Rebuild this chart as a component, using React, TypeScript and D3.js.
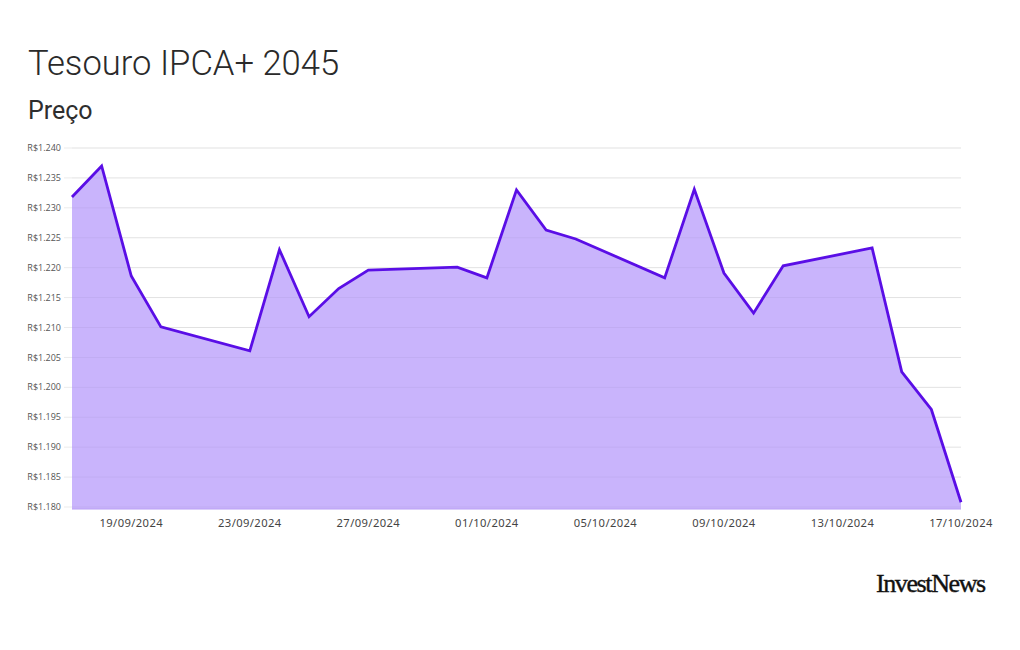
import React, { useEffect } from "react";
import * as d3 from "d3";

// dias úteis do período
const dates = [
  "2024-09-17", "2024-09-18", "2024-09-19", "2024-09-20",
  "2024-09-23", "2024-09-24", "2024-09-25", "2024-09-26", "2024-09-27",
  "2024-09-30", "2024-10-01", "2024-10-02", "2024-10-03", "2024-10-04",
  "2024-10-07", "2024-10-08", "2024-10-09", "2024-10-10", "2024-10-11",
  "2024-10-14", "2024-10-15", "2024-10-16", "2024-10-17",
];

const prices = [
  1231.8, 1237.0, 1218.6, 1210.1,
  1206.1, 1223.0, 1211.8, 1216.5, 1219.6,
  1220.1, 1218.3, 1233.0, 1226.3, 1224.8,
  1218.3, 1233.1, 1219.1, 1212.4, 1220.3,
  1223.3, 1202.6, 1196.3, 1180.8,
];

const xTicks = [
  "2024-09-19", "2024-09-23", "2024-09-27", "2024-10-01",
  "2024-10-05", "2024-10-09", "2024-10-13", "2024-10-17",
];

const yTicks = [1180, 1185, 1190, 1195, 1200, 1205, 1210, 1215, 1220, 1225, 1230, 1235, 1240];

const W = 1020;
const H = 650;
const margin = { left: 72, right: 59, top: 148, bottom: 143 };

const parse = d3.utcParse("%Y-%m-%d");
const fmtDate = d3.utcFormat("%d/%m/%Y");
const brl = d3.formatLocale({
  decimal: ",",
  thousands: ".",
  grouping: [3],
  currency: ["R$", ""],
});
const fmtPrice = brl.format("$,.0f");

const App: React.FC = () => {
  useEffect(() => {
    document.body.style.margin = "0";
  }, []);

  const points = dates.map((d, i) => ({ date: parse(d) as Date, value: prices[i] }));

  const x = d3
    .scaleUtc()
    .domain([parse(dates[0]) as Date, parse(dates[dates.length - 1]) as Date])
    .range([margin.left, W - margin.right]);
  const y = d3
    .scaleLinear()
    .domain([1180, 1240])
    .range([H - margin.bottom, margin.top]);

  const line = d3
    .line<{ date: Date; value: number }>()
    .x((d) => x(d.date))
    .y((d) => y(d.value));
  const area = d3
    .area<{ date: Date; value: number }>()
    .x((d) => x(d.date))
    .y0(y(1180) + 2)
    .y1((d) => y(d.value));

  const x0 = x.range()[0];
  const x1 = x.range()[1];

  return (
    <svg width={W} height={H} style={{ display: "block", background: "#fff" }}>
      <text x={28} y={75} fontFamily="Roboto" fontWeight={300} fontSize={34.6} fill="#2a2a2a">
        Tesouro IPCA+ 2045
      </text>
      <text x={28} y={119} fontFamily="Roboto" fontWeight={400} fontSize={25} fill="#2e2e2e">
        Preço
      </text>

      {yTicks.map((t) => (
        <line key={"g" + t} x1={x0 - 8} x2={x1} y1={y(t)} y2={y(t)} stroke="#ebebeb" strokeWidth={1} />
      ))}

      <path d={area(points) ?? ""} fill="#c9b4fc" />

      {yTicks.map((t) => (
        <line key={"o" + t} x1={x0} x2={x1} y1={y(t)} y2={y(t)} stroke="#000" strokeOpacity={0.04} strokeWidth={1} />
      ))}
      <line x1={x0} x2={x1} y1={y(1180) + 2} y2={y(1180) + 2} stroke="#b89ef5" strokeWidth={1} />

      <path d={line(points) ?? ""} fill="none" stroke="#5a0ee6" strokeWidth={2.8} strokeLinejoin="miter" />

      {yTicks.map((t) => (
        <text
          key={"l" + t}
          x={61}
          y={y(t)}
          dy="0.35em"
          textAnchor="end"
          fontFamily="Open Sans"
          fontSize={9}
          fill="#555"
        >
          {fmtPrice(t)}
        </text>
      ))}

      {xTicks.map((t) => {
        const d = parse(t) as Date;
        return (
          <text
            key={t}
            x={x(d)}
            y={527}
            textAnchor="middle"
            fontFamily="Noto Sans"
            fontSize={11.2}
            letterSpacing={0.4}
            fill="#444"
          >
            {fmtDate(d)}
          </text>
        );
      })}

      <text
        x={876}
        y={592}
        fontFamily="Liberation Serif"
        fontWeight={400}
        fontSize={26}
        letterSpacing={-1.4}
        fill="#111"
        stroke="#111"
        strokeWidth={0.4}
      >
        InvestNews
      </text>
    </svg>
  );
};

export default App;
